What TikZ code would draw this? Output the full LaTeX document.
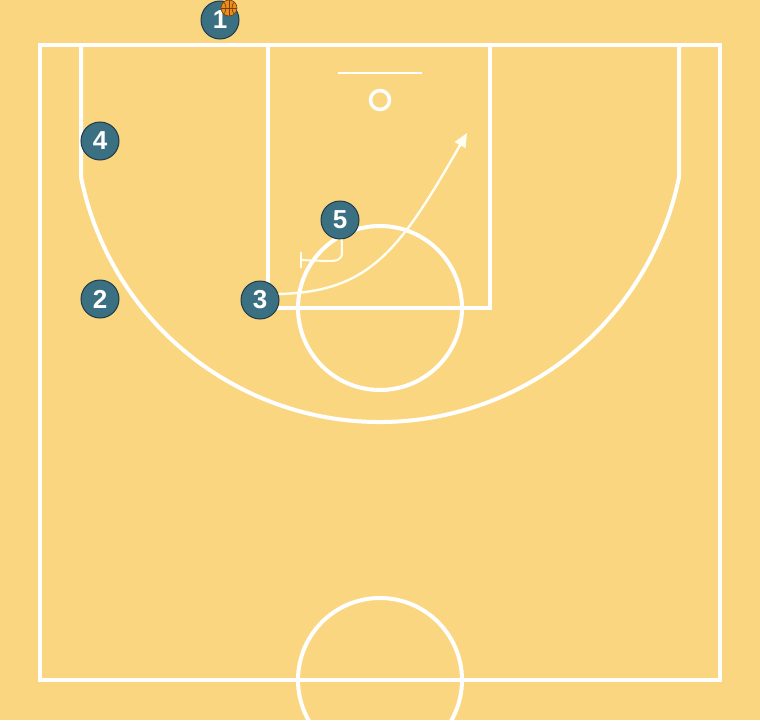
\documentclass[tikz,border=0pt]{standalone}
\usepackage{fontspec}
\setmainfont{Liberation Sans}
\usetikzlibrary{arrows.meta}
\definecolor{floor}{HTML}{FAD681}
\definecolor{teal}{HTML}{3B6F82}
\definecolor{tealdark}{HTML}{1E3B46}
\definecolor{ballc}{HTML}{EA8D1C}
\definecolor{seam}{HTML}{7A3E08}
\tikzset{
  court/.style={draw=white,line width=4pt},
  player/.style={circle,fill=teal,draw=tealdark,line width=1pt,minimum size=38pt,inner sep=0pt,text=white,font=\bfseries\fontsize{26}{26}\selectfont},
  move/.style={draw=white!95!yellow,line width=2.4pt,-{Triangle[length=14pt,width=12pt]}},
  screen/.style={draw=white!95!yellow,line width=2pt}
}
\begin{document}
\begin{tikzpicture}[x=1pt,y=-1pt]
\fill[floor] (0,0) rectangle (760,720);
\useasboundingbox (0,0) rectangle (760,720);
% court
\draw[court] (40,45) rectangle (720,680);
\draw[court] (268,45) rectangle (490,308);
\draw[court] (380,308) circle[radius=82];
\draw[court] (380,680) circle[radius=82];
\draw[court] (81,45) -- (81,177) arc[start angle=168.65,end angle=11.35,radius=305] -- (679,45);
\draw[draw=white,line width=2.2pt] (338,73) -- (422,73);
\draw[draw=white,line width=3.5pt] (380,100) circle[radius=9.5];
% players
\node[player] (p1) at (220,20) {1};
\node[player] (p4) at (100,141) {4};
\node[player] (p2) at (100,299) {2};
\node[player] (p3) at (260,300) {3};
\node[player] (p5) at (340,220) {5};
% ball
\node[circle,fill=ballc,draw=seam,line width=0.6pt,minimum size=16pt,inner sep=0pt] (ball) at (229,8) {};
\begin{scope}
\clip (229,8) circle[radius=8];
\draw[seam,line width=0.6pt] (221,8) -- (237,8);
\draw[seam,line width=0.6pt] (229,0) -- (229,16);
\draw[seam,line width=0.6pt] (223,1) .. controls (227,5) and (227,11) .. (223,15);
\draw[seam,line width=0.6pt] (235,1) .. controls (231,5) and (231,11) .. (235,15);
\end{scope}
% cut
\coordinate (tip) at (467,133);
\draw[move] (p3.18) .. controls (370,292) and (400,250) .. (tip);
% screen
\coordinate (sc) at (301,260);
\draw[screen] (p5.-85) -- (342,252) .. controls (342,261) and (336,261) .. (326,261) -- (sc);
\draw[screen] (301,252) -- (301,268);
\end{tikzpicture}
\end{document}
